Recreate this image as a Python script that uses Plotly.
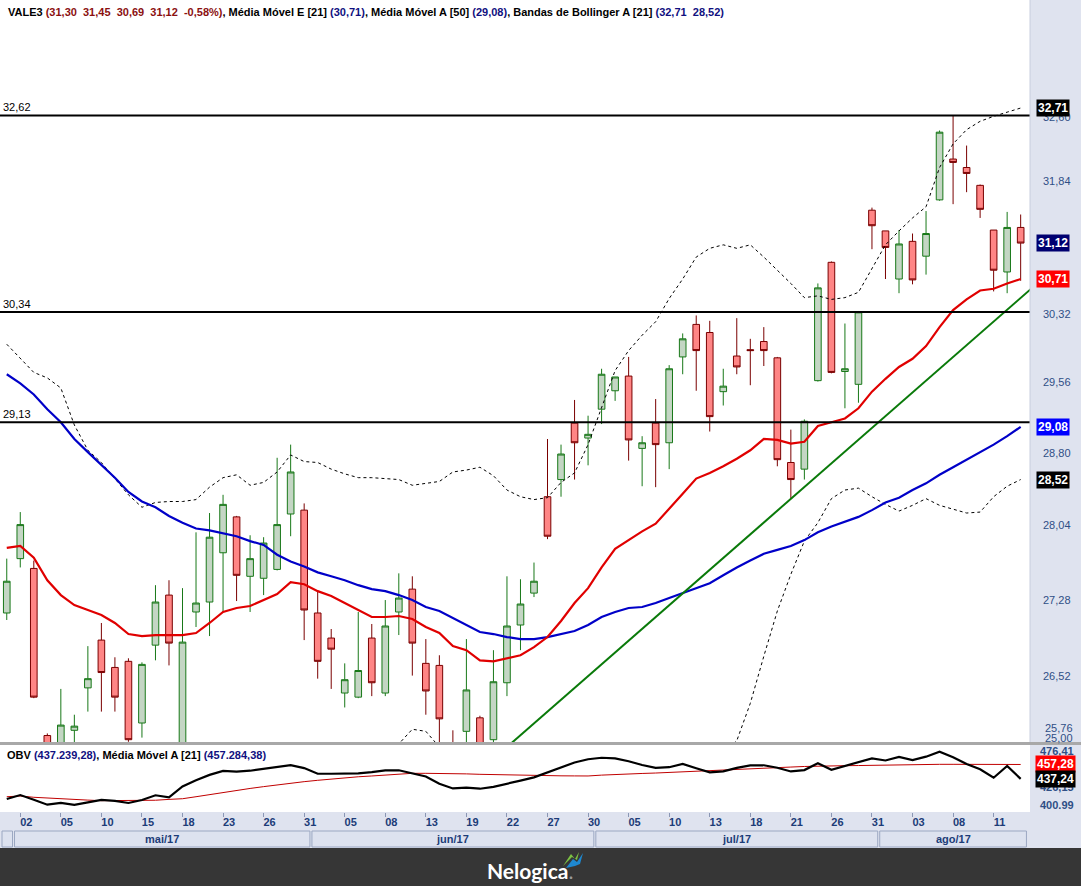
import math
import pandas as pd
import plotly.graph_objects as go

# ---------------- data ----------------
ticker = "VALE3"
all_days = pd.bdate_range("2017-04-28", "2017-08-15")
holidays = ["2017-05-01", "2017-06-15"]
dates = [d for d in all_days if d.strftime("%Y-%m-%d") not in holidays]

opens = [27.15, 27.70, 27.60, 25.95, 25.70, 26.00, 26.41, 26.88, 26.61, 26.67,
         26.07, 26.83, 27.33, 25.60, 27.16, 27.26, 27.76, 28.13, 27.52, 27.50,
         27.59, 28.16, 28.20, 27.15, 26.90, 26.36, 26.32, 26.90, 26.36, 27.16,
         27.39, 26.65, 26.63, 25.80, 25.99, 26.12, 25.91, 26.46, 27.03, 27.35,
         28.34, 28.52, 29.12, 28.96, 29.27, 29.47, 29.63, 28.85, 29.12, 28.91,
         29.84, 30.20, 30.11, 29.46, 29.85, 29.92, 30.01, 29.83, 28.70, 28.63,
         29.58, 30.90, 29.68, 29.54, 31.50, 31.26, 30.71, 31.14, 30.97, 31.62,
         32.10, 32.00, 31.79, 31.27, 30.79, 31.30]
highs = [27.70, 28.18, 27.68, 25.97, 26.40, 26.15, 26.82, 27.05, 26.71, 26.70,
         26.66, 27.43, 27.48, 27.40, 27.97, 28.17, 28.36, 28.14, 27.94, 27.92,
         28.75, 28.89, 28.27, 27.37, 26.99, 26.65, 27.16, 27.04, 27.28, 27.55,
         27.52, 26.89, 26.73, 26.00, 26.89, 26.14, 26.78, 27.52, 27.49, 27.66,
         28.95, 28.89, 29.37, 29.20, 29.71, 29.62, 29.84, 28.98, 29.38, 29.75,
         30.10, 30.30, 30.24, 29.71, 30.27, 30.04, 30.17, 29.84, 29.05, 29.16,
         30.66, 30.91, 30.21, 30.35, 31.53, 31.26, 31.27, 31.23, 31.49, 32.44,
         32.62, 32.26, 31.80, 31.27, 31.48, 31.45]
lows = [27.08, 27.61, 26.31, 25.48, 25.62, 25.85, 26.18, 26.18, 26.18, 25.89,
        25.93, 26.68, 26.63, 25.45, 27.01, 26.92, 27.16, 27.27, 27.16, 27.33,
        27.58, 27.93, 26.88, 26.50, 26.40, 26.22, 26.31, 26.33, 26.33, 26.93,
        26.53, 26.15, 25.80, 25.50, 25.80, 25.62, 25.85, 26.33, 26.78, 27.31,
        27.90, 28.34, 28.52, 28.67, 29.11, 29.36, 28.72, 28.45, 28.44, 28.63,
        29.65, 29.47, 29.03, 29.31, 29.65, 29.53, 29.74, 28.66, 28.32, 28.52,
        29.57, 29.66, 29.28, 29.34, 31.05, 30.71, 30.55, 30.65, 30.76, 31.61,
        31.57, 31.71, 31.41, 30.57, 30.55, 30.69]
closes = [27.47, 28.05, 26.32, 25.60, 26.05, 26.04, 26.50, 26.56, 26.32, 25.91,
          26.64, 27.26, 26.85, 26.86, 27.25, 27.92, 28.26, 27.53, 27.70, 27.86,
          28.05, 28.60, 27.18, 26.67, 26.79, 26.49, 26.58, 26.46, 27.02, 27.30,
          26.85, 26.38, 26.11, 25.62, 26.39, 25.75, 26.47, 27.02, 27.24, 27.47,
          27.93, 28.79, 28.91, 29.00, 29.65, 29.62, 28.94, 28.91, 28.89, 29.71,
          30.04, 29.91, 29.19, 29.52, 29.73, 29.91, 29.91, 28.73, 28.52, 29.14,
          30.61, 29.67, 29.71, 30.34, 31.32, 31.07, 31.11, 30.70, 31.23, 32.42,
          32.06, 31.93, 31.51, 30.81, 31.30, 31.12]

ema21 = [27.81, 27.83, 27.71, 27.48, 27.33, 27.23, 27.18, 27.13, 27.05, 26.94,
         26.92, 26.93, 26.93, 26.93, 26.95, 27.05, 27.16, 27.20, 27.22, 27.28,
         27.34, 27.46, 27.44, 27.37, 27.32, 27.25, 27.18, 27.11, 27.11, 27.12,
         27.09, 27.01, 26.95, 26.82, 26.78, 26.68, 26.67, 26.70, 26.73, 26.81,
         26.91, 27.07, 27.25, 27.40, 27.61, 27.80, 27.89, 27.98, 28.06, 28.22,
         28.37, 28.53, 28.59, 28.66, 28.74, 28.83, 28.95, 28.94, 28.90, 28.92,
         29.09, 29.13, 29.17, 29.28, 29.46, 29.60, 29.73, 29.82, 29.96, 30.17,
         30.36, 30.48, 30.58, 30.60, 30.66, 30.71]
sma50 = [29.65, 29.55, 29.43, 29.27, 29.13, 28.95, 28.81, 28.68, 28.54, 28.39,
         28.29, 28.23, 28.14, 28.07, 28.01, 27.99, 27.96, 27.93, 27.88, 27.84,
         27.74, 27.67, 27.62, 27.56, 27.52, 27.48, 27.43, 27.39, 27.37, 27.33,
         27.28, 27.21, 27.17, 27.10, 27.03, 26.96, 26.94, 26.91, 26.89, 26.89,
         26.91, 26.94, 26.97, 27.03, 27.11, 27.16, 27.20, 27.21, 27.25, 27.30,
         27.35, 27.40, 27.45, 27.53, 27.61, 27.68, 27.75, 27.79, 27.83, 27.89,
         27.97, 28.03, 28.08, 28.13, 28.20, 28.28, 28.33, 28.41, 28.48, 28.57,
         28.65, 28.73, 28.81, 28.89, 28.98, 29.08]
bb_upper = [29.98, 29.82, 29.67, 29.61, 29.50, 29.10, 28.83, 28.70, 28.53, 28.36,
            28.23, 28.28, 28.29, 28.29, 28.31, 28.44, 28.54, 28.57, 28.46, 28.49,
            28.60, 28.78, 28.71, 28.70, 28.63, 28.58, 28.54, 28.54, 28.53, 28.52,
            28.46, 28.48, 28.50, 28.60, 28.62, 28.65, 28.56, 28.41, 28.34, 28.31,
            28.33, 28.49, 28.59, 28.89, 29.28, 29.69, 29.91, 30.08, 30.23, 30.49,
            30.71, 30.96, 31.06, 31.10, 31.06, 31.10, 30.96, 30.81, 30.66, 30.50,
            30.52, 30.48, 30.50, 30.56, 30.83, 31.10, 31.26, 31.41, 31.54, 32.00,
            32.28, 32.45, 32.55, 32.61, 32.66, 32.71]
bb_lower = [25.64, 25.84, 25.75, 25.35, 25.16, 25.36, 25.53, 25.56, 25.57, 25.52,
            25.61, 25.58, 25.58, 25.57, 25.59, 25.66, 25.74, 25.78, 25.80, 25.78,
            25.75, 25.70, 25.72, 25.74, 25.76, 25.78, 25.80, 25.82, 25.85, 25.87,
            26.01, 25.99, 25.84, 25.70, 25.55, 25.40, 25.30, 25.25, 25.20, 25.15,
            25.10, 25.00, 24.90, 24.85, 24.80, 24.75, 24.80, 24.90, 25.00, 25.10,
            25.30, 25.50, 25.65, 25.80, 25.90, 26.26, 26.72, 27.17, 27.54, 27.88,
            28.07, 28.32, 28.41, 28.43, 28.34, 28.26, 28.19, 28.25, 28.32, 28.25,
            28.21, 28.17, 28.18, 28.34, 28.45, 28.52]

obv = [409.3, 414.8, 408.4, 401.4, 404.0, 401.3, 404.7, 408.0, 406.8, 403.8,
       408.0, 414.5, 411.5, 426.8, 435.5, 442.8, 448.3, 447.4, 448.6, 451.2,
       453.6, 456.4, 452.3, 444.4, 444.4, 444.2, 444.9, 446.6, 449.1, 449.2,
       445.2, 440.6, 430.4, 424.0, 425.0, 423.6, 426.2, 431.0, 434.9, 439.4,
       446.0, 453.5, 460.0, 464.5, 466.6, 465.8, 461.8, 456.5, 452.6, 453.5,
       458.0, 452.0, 446.3, 447.8, 452.5, 456.0, 456.2, 452.8, 447.6, 449.5,
       459.0, 450.0, 455.5, 460.6, 465.8, 462.8, 467.9, 463.5, 468.1, 475.0,
       467.2, 457.9, 450.6, 438.9, 455.2, 437.24]
obv_ma21 = [412.5, 413.5, 411.7, 410.5, 409.3, 408.5, 407.8, 407.0, 406.9, 406.9,
            407.0, 407.6, 408.8, 409.7, 412.5, 415.5, 418.5, 421.8, 424.0, 426.5,
            429.0, 431.2, 433.4, 435.3, 437.2, 439.0, 440.2, 441.3, 442.8, 444.3,
            445.0, 445.0, 445.0, 444.6, 444.2, 443.6, 443.1, 442.7, 442.3, 442.0,
            441.7, 441.5, 441.4, 441.3, 442.5, 443.6, 444.2, 444.8, 445.4, 446.3,
            447.2, 447.8, 448.4, 449.2, 450.6, 452.0, 452.6, 453.2, 453.7, 454.5,
            455.2, 455.4, 455.6, 455.8, 456.2, 456.6, 457.0, 457.4, 457.5, 457.5,
            457.5, 457.5, 457.5, 457.4, 457.3, 457.28]

level_values = [32.62, 30.34, 29.13]
level_labels = ["32,62", "30,34", "29,13"]
trend_idx = [37, 76]
trend_price = [25.84, 30.63]

price_ticks = [32.60, 31.84, 30.32, 29.56, 28.80, 28.04, 27.28, 26.52]
price_ticktext = ["32,60", "31,84", "30,32", "29,56", "28,80", "28,04", "27,28", "26,52"]
obv_ticks = [476.41, 426.15, 400.99]
obv_ticktext = ["476,41", "426,15", "400.99"]

legend_main = [("VALE3 ", "#000000"), ("(31,30  31,45  30,69  31,12  -0,58%)", "#8b1010"),
               (", Média Móvel E [21] ", "#000000"), ("(30,71)", "#101080"),
               (", Média Móvel A [50] ", "#000000"), ("(29,08)", "#101080"),
               (", Bandas de Bollinger A [21] ", "#000000"), ("(32,71  28,52)", "#101080")]
legend_obv = [("OBV ", "#000000"), ("(437.239,28)", "#101080"),
              (", Média Móvel A [21] ", "#000000"), ("(457.284,38)", "#101080")]

price_badges = [(32.71, "#000000"), (31.12, "#000070"), (30.71, "#ff0000"),
                (29.08, "#0000ff"), (28.52, "#000000")]
obv_badges = [(457.28, "#ff0000"), (437.24, "#000000")]

# ---------------- layout helpers ----------------
W, H = 1081, 886
def XP(x): return x / W
def YP(y): return 1 - y / H

idx = list(range(len(dates)))
FONT = "Liberation Sans"
AXBG = "#dfe3ef"
LBL = "#2f4f86"
DATE_C = "#1c3c78"
PLOT_R = 1030

fig = go.Figure()

fig.add_trace(go.Candlestick(
    x=idx, open=opens, high=highs, low=lows, close=closes,
    increasing=dict(line=dict(color="#187818", width=1), fillcolor="#c4d6c4"),
    decreasing=dict(line=dict(color="#7a0000", width=1), fillcolor="#ff8585"),
    whiskerwidth=0, xaxis="x", yaxis="y", hoverinfo="skip"))

for ys, col, w, dash in [(bb_upper, "#000000", 1, "3px,3px"),
                         (bb_lower, "#000000", 1, "3px,3px"),
                         (sma50, "#0000c8", 2.2, "solid"),
                         (ema21, "#e00000", 2.2, "solid")]:
    fig.add_trace(go.Scatter(x=idx, y=ys, mode="lines", xaxis="x", yaxis="y",
                             line=dict(color=col, width=w, dash=dash), hoverinfo="skip"))

fig.add_trace(go.Scatter(x=trend_idx, y=trend_price, mode="lines", xaxis="x", yaxis="y",
                         line=dict(color="#0a7a0a", width=2), hoverinfo="skip"))

for v in level_values:
    fig.add_trace(go.Scatter(x=[-0.5, 76], y=[v, v], mode="lines", xaxis="x", yaxis="y",
                             line=dict(color="#000000", width=2), hoverinfo="skip"))

fig.add_trace(go.Scatter(x=idx, y=obv_ma21, mode="lines", xaxis="x2", yaxis="y2",
                         line=dict(color="#c00000", width=1), hoverinfo="skip"))
fig.add_trace(go.Scatter(x=idx, y=obv, mode="lines", xaxis="x2", yaxis="y2",
                         line=dict(color="#000000", width=2.2), hoverinfo="skip"))

xr = [-0.5, 75.69]
ylo, yhi = 25.888, 34.04
fig.update_layout(
    width=W, height=H, margin=dict(l=0, r=0, t=0, b=0, autoexpand=False),
    paper_bgcolor=AXBG, plot_bgcolor="#ffffff", showlegend=False,
    font=dict(family=FONT),
    xaxis=dict(domain=[0, XP(PLOT_R)], range=xr, visible=False, anchor="y",
               rangeslider=dict(visible=False), fixedrange=True),
    yaxis=dict(domain=[YP(742), 1], type="log",
               range=[math.log10(ylo), math.log10(yhi)], side="right",
               tickvals=price_ticks, ticktext=price_ticktext, showgrid=False,
               zeroline=False, ticks="", ticklabelstandoff=12,
               tickfont=dict(size=11, color=LBL, family=FONT), anchor="x"),
    xaxis2=dict(domain=[0, XP(PLOT_R)], range=xr, anchor="y2",
                tickvals=idx[1::3], ticktext=[dates[i].strftime("%d") for i in idx[1::3]],
                ticks="outside", ticklen=4, tickcolor="#8a96b4", showgrid=False,
                zeroline=False, ticklabelshift=6, ticklabelstandoff=-4,
                tickfont=dict(size=11, color=DATE_C, family=FONT, weight="bold")),
    yaxis2=dict(domain=[YP(812), YP(745)], range=[391.27, 484.33], side="right",
                tickvals=obv_ticks, ticktext=obv_ticktext, showgrid=False, zeroline=False,
                ticks="", ticklabelstandoff=9, anchor="x2",
                tickfont=dict(size=11, color=LBL, family=FONT, weight="bold")),
)

shapes = []
shapes.append(dict(type="rect", xref="paper", yref="paper", x0=0, x1=1,
                   y0=YP(745), y1=YP(742), fillcolor="#a8a8a8", line=dict(width=0)))
shapes.append(dict(type="line", xref="paper", yref="paper", x0=XP(PLOT_R), x1=XP(PLOT_R),
                   y0=YP(742), y1=1, line=dict(color="#c8cede", width=1)))
months = []
for i, d in enumerate(dates):
    key = d.strftime("%m")
    if not months or months[-1][0] != key:
        months.append([key, i, i, d])
    else:
        months[-1][2] = i
pt_names = {"04": "abr", "05": "mai", "06": "jun", "07": "jul", "08": "ago"}
px_per = PLOT_R / (xr[1] - xr[0])
def xpix(i): return (i - xr[0]) * px_per
annotations = []
for key, i0, i1, d in months:
    left = max(xpix(i0 - 0.5) + 1, 2)
    right = min(xpix(i1 + 0.5) - 1, PLOT_R - 2)
    shapes.append(dict(type="rect", xref="paper", yref="paper", x0=XP(left), x1=XP(right),
                       y0=YP(847), y1=YP(831), fillcolor="#dde2ef",
                       line=dict(color="#9ba7c2", width=1)))
    if i1 - i0 > 3:
        annotations.append(dict(xref="paper", yref="paper", x=XP((left + right) / 2), y=YP(839),
                                xanchor="center", yanchor="middle",
                                text=f"<b>{pt_names[key]}/{d.strftime('%y')}</b>", showarrow=False,
                                font=dict(size=11, color=DATE_C, family=FONT)))
shapes.append(dict(type="rect", xref="paper", yref="paper", x0=0, x1=1, y0=0, y1=YP(848),
                   fillcolor="#363636", line=dict(width=0)))
shapes.append(dict(type="path", xref="paper", yref="paper",
                   path=f"M {XP(563)},{YP(866)} L {XP(571)},{YP(854)} L {XP(575)},{YP(859)} L {XP(579)},{YP(852)} L {XP(577)},{YP(860)} L {XP(572)},{YP(857)} Z",
                   fillcolor="#7cc242", line=dict(width=0)))
shapes.append(dict(type="path", xref="paper", yref="paper",
                   path=f"M {XP(566)},{YP(868)} L {XP(573)},{YP(859)} L {XP(577)},{YP(862)} L {XP(583)},{YP(853)} L {XP(580)},{YP(864)} L {XP(575)},{YP(866)} Z",
                   fillcolor="#1e88d0", line=dict(width=0)))
fig.update_layout(shapes=shapes)

def rich(parts):
    return "".join(f"<span style='color:{c}'>{t}</span>" for t, c in parts)

annotations.append(dict(xref="paper", yref="paper", x=XP(6), y=YP(12), xanchor="left",
                        yanchor="middle", text="<b>" + rich(legend_main) + "</b>", showarrow=False,
                        font=dict(size=11, family=FONT)))
annotations.append(dict(xref="paper", yref="paper", x=XP(6), y=YP(755), xanchor="left",
                        yanchor="middle", text="<b>" + rich(legend_obv) + "</b>", showarrow=False,
                        bgcolor="#ffffff", borderpad=0,
                        font=dict(size=11, family=FONT)))
for v, t in zip(level_values, level_labels):
    annotations.append(dict(xref="paper", yref="y", x=XP(1), y=math.log10(v), xanchor="left",
                            yanchor="bottom", text=t, showarrow=False,
                            font=dict(size=11, color="#000000", family=FONT)))
for v, c in price_badges:
    annotations.append(dict(xref="paper", yref="y", x=XP(1036), y=math.log10(v), xanchor="left",
                            yanchor="middle", text="<b>" + f"{v:.2f}".replace(".", ",") + "</b>",
                            showarrow=False, bgcolor=c, borderpad=1,
                            font=dict(size=12, color="#ffffff", family=FONT)))
for v, c in obv_badges:
    annotations.append(dict(xref="paper", yref="y2", x=XP(1035), y=v, xanchor="left",
                            yanchor="middle", text="<b>" + f"{v:.2f}".replace(".", ",") + "</b>",
                            showarrow=False, bgcolor=c, borderpad=1,
                            font=dict(size=12, color="#ffffff", family=FONT)))
for t, yy in [("25,76", 727.7), ("25,00", 737.7)]:
    annotations.append(dict(xref="paper", yref="paper", x=XP(1043), y=YP(yy), xanchor="left",
                            yanchor="middle", text=t, showarrow=False,
                            font=dict(size=11, color=LBL, family=FONT)))
annotations.append(dict(xref="paper", yref="paper", x=XP(530), y=YP(870), xanchor="center",
                        yanchor="middle", text="<b>Nelogica</b><span style='color:#9a9a9a'>.</span>",
                        showarrow=False, font=dict(size=21, color="#ffffff", family="Lato")))
fig.update_layout(annotations=annotations)

fig.write_html("out.html", config={"displayModeBar": False},
               post_script="document.body.style.margin='0px';document.body.style.overflow='hidden';")
